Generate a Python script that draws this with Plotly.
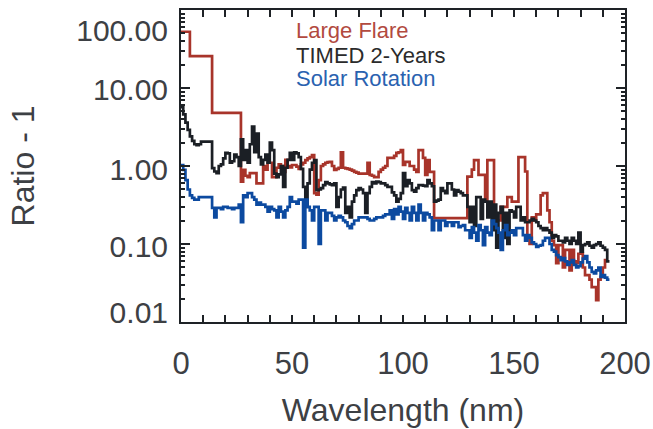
import plotly.graph_objects as go

# ---- data (1-nm bins, value = ratio - 1) ----
large_flare = ([52.6] * 4 + [25.7] * 10 + [4.8] * 13 + [
    0.63, 0.89, 0.75, 0.72, 0.81, 0.81, 0.81, 0.6, 0.6, 0.6,
    1.0, 0.9, 1.1, 1.1, 0.72, 0.72, 0.95, 1.05, 1.0, 0.84,
    1.2, 1.0, 0.96, 1.03, 1.03, 0.98, 0.92, 1.05, 1.1, 1.19,
    1.25, 1.3, 1.38, 0.45, 0.43, 0.66, 1.0, 1.05, 1.1, 1.12,
    1.13, 1.0, 0.89, 0.92, 0.95, 1.5, 0.95, 0.93, 0.92, 0.9,
    0.87, 0.84, 0.82, 0.8, 0.8, 0.8, 0.8, 1.1, 0.77, 0.75,
    0.72, 0.72, 0.84, 0.9, 0.95, 1.0, 1.27, 1.27, 1.27, 1.35,
    1.47, 1.5, 1.6, 1.03, 1.13, 1.13, 1.0, 1.0, 0.9, 0.84,
    1.6, 1.6, 1.27, 0.77, 1.19, 0.84, 0.84] + [0.215] * 15 + [
    0.73, 0.73, 0.9, 1.19, 1.19, 0.77, 0.77, 0.77, 0.35, 1.19,
    1.19, 1.19, 0.2, 0.2, 0.2, 0.3, 0.3, 0.3, 0.4, 0.4,
    0.35, 0.35, 0.35, 1.3, 1.3, 1.3, 0.85, 0.12, 0.1, 0.22,
    0.2, 0.24, 0.24, 0.42, 0.45, 0.45, 0.27, 0.19, 0.11, 0.097,
    0.057, 0.097, 0.097, 0.05, 0.084, 0.084, 0.046, 0.084, 0.06, 0.057,
    0.075, 0.075, 0.05, 0.04, 0.04, 0.035, 0.028, 0.028, 0.019, 0.035,
    0.038, 0.05, 0.062])

timed_2yr = [
    5.7, 4.6, 3.6, 2.9, 2.4, 2.1, 1.9, 1.85, 1.9, 2.05,
    2.05, 2.05, 2.05, 2.05, 0.94, 0.85, 0.81, 1.0, 1.05, 1.25,
    1.47, 1.45, 1.1, 1.15, 1.4, 1.3, 1.0, 2.2, 1.2, 1.6,
    1.1, 1.9, 3.2, 1.5, 2.6, 1.3, 1.05, 1.2, 1.4, 1.1,
    2.0, 1.6, 0.8, 0.72, 0.78, 1.0, 0.54, 0.95, 1.2, 1.47,
    1.2, 1.5, 1.45, 1.3, 0.92, 0.54, 0.3, 0.6, 0.9, 1.1,
    1.19, 0.49, 0.5, 0.52, 0.57, 0.62, 0.6, 0.58, 0.57, 0.6,
    0.3, 0.4, 0.5, 0.53, 0.25, 0.3, 0.22, 0.35, 0.42, 0.49,
    0.52, 0.5, 0.45, 0.25, 0.45, 0.54, 0.62, 0.6, 0.63, 0.62,
    0.6, 0.6, 0.57, 0.54, 0.54, 0.46, 0.42, 0.35, 0.38, 0.45,
    0.81, 0.55, 0.66, 0.6, 0.49, 0.47, 0.52, 0.57, 0.57, 0.56,
    0.55, 0.66, 0.6, 0.55, 0.35, 0.36, 0.37, 0.52, 0.48, 0.45,
    0.6, 0.6, 0.5, 0.42, 0.49, 0.47, 0.45, 0.42, 0.42, 0.3,
    0.19, 0.3, 0.17, 0.4, 0.4, 0.21, 0.37, 0.35, 0.22, 0.35,
    0.15, 0.32, 0.09, 0.25, 0.3, 0.12, 0.25, 0.1, 0.27, 0.26,
    0.22, 0.3, 0.3, 0.2, 0.22, 0.19, 0.19, 0.2, 0.21, 0.2,
    0.19, 0.17, 0.16, 0.15, 0.16, 0.15, 0.14, 0.12, 0.13, 0.125,
    0.11, 0.11, 0.105, 0.12, 0.11, 0.1, 0.12, 0.11, 0.1, 0.14,
    0.08, 0.097, 0.1, 0.105, 0.095, 0.09, 0.097, 0.1, 0.105, 0.095,
    0.09, 0.084, 0.06]

solar_rotation = [
    1.03, 0.89, 0.66, 0.5, 0.42, 0.39, 0.37, 0.37, 0.4, 0.4,
    0.4, 0.4, 0.4, 0.4, 0.29, 0.22, 0.29, 0.29, 0.28, 0.3,
    0.3, 0.29, 0.29, 0.28, 0.29, 0.29, 0.32, 0.19, 0.42, 0.4,
    0.45, 0.45, 0.4, 0.37, 0.32, 0.34, 0.32, 0.32, 0.3, 0.26,
    0.3, 0.28, 0.27, 0.22, 0.3, 0.26, 0.22, 0.27, 0.3, 0.4,
    0.35, 0.35, 0.33, 0.37, 0.37, 0.09, 0.37, 0.3, 0.27, 0.2,
    0.3, 0.3, 0.1, 0.27, 0.27, 0.2, 0.25, 0.25, 0.23, 0.2,
    0.22, 0.23, 0.22, 0.2, 0.19, 0.17, 0.16, 0.18, 0.2, 0.2,
    0.22, 0.22, 0.22, 0.22, 0.21, 0.2, 0.2, 0.21, 0.22, 0.22,
    0.22, 0.23, 0.24, 0.24, 0.27, 0.21, 0.28, 0.24, 0.3, 0.26,
    0.21, 0.29, 0.25, 0.2, 0.3, 0.25, 0.2, 0.32, 0.25, 0.2,
    0.25, 0.24, 0.22, 0.15, 0.2, 0.2, 0.15, 0.2, 0.2, 0.17,
    0.19, 0.19, 0.17, 0.19, 0.19, 0.165, 0.17, 0.175, 0.15, 0.15,
    0.12, 0.165, 0.14, 0.11, 0.175, 0.15, 0.097, 0.165, 0.14, 0.13,
    0.2, 0.18, 0.16, 0.14, 0.084, 0.15, 0.175, 0.13, 0.14, 0.15,
    0.13, 0.16, 0.16, 0.16, 0.13, 0.11, 0.13, 0.12, 0.105, 0.1,
    0.092, 0.095, 0.097, 0.11, 0.12, 0.12, 0.1, 0.084, 0.08, 0.072,
    0.068, 0.062, 0.066, 0.06, 0.054, 0.058, 0.062, 0.054, 0.05, 0.052,
    0.058, 0.065, 0.07, 0.058, 0.05, 0.044, 0.042, 0.046, 0.05, 0.038,
    0.04, 0.037, 0.035]

series_names = ["Large Flare", "TIMED 2-Years", "Solar Rotation"]
y_tick_vals = [0.01, 0.1, 1, 10, 100]
y_tick_text = ["0.01", "0.10", "1.00", "10.00", "100.00"]
x_tick_vals = [0, 50, 100, 150, 200]

line_colors = ["#a8342a", "#1b1f25", "#0c4aa0"]
text_colors = ["#b24a3f", "#2b2b2b", "#2a62b0"]
AX = "#1e2226"
TXT = "#3d4044"
FONT = "Liberation Sans, Arial, Helvetica, sans-serif"


def steps(vals):
    xs = list(range(len(vals) + 1))
    ys = list(vals) + [vals[-1]]
    return xs, ys


fig = go.Figure()
for name, vals, col in zip(series_names, [large_flare, timed_2yr, solar_rotation], line_colors):
    xs, ys = steps(vals)
    fig.add_trace(go.Scatter(x=xs, y=ys, mode="lines", name=name,
                             line=dict(color=col, width=2.7, shape="hv"),
                             showlegend=False))

# invisible trace to activate overlay label axis
fig.add_trace(go.Scatter(x=[None], y=[None], yaxis="y2", showlegend=False, hoverinfo="skip"))

# legend texts
leg_y = [0.935, 0.855, 0.779]
for name, col, yy in zip(series_names, text_colors, leg_y):
    fig.add_annotation(text=name, xref="paper", yref="paper", x=0.255, y=yy,
                       xanchor="left", yanchor="middle", showarrow=False,
                       font=dict(family=FONT, size=22, color=col))

# label positions shifted inward like the original (IDL-style placement)
label_pos = [0.0134, 0.092, 0.89, 9.5, 55]

fig.update_layout(
    width=653, height=429,
    margin=dict(l=181, r=28, t=10, b=107, autoexpand=False),
    paper_bgcolor="white", plot_bgcolor="white",
    font=dict(family=FONT, color=TXT),
    xaxis=dict(range=[0, 200], tickvals=x_tick_vals, automargin=False,
               ticks="inside", ticklen=7, tickwidth=1.5, tickcolor=AX,
               showline=True, linecolor=AX, linewidth=2, mirror="allticks",
               showgrid=False, zeroline=False,
               minor=dict(dtick=10, ticks="inside", ticklen=3, tickwidth=1.5, tickcolor=AX, showgrid=False),
               tickfont=dict(size=31, color=TXT), ticklabelstandoff=13,
               title=dict(text="Wavelength (nm)", font=dict(size=32, color=TXT), standoff=18)),
    yaxis=dict(type="log", range=[-2, 2], tickvals=y_tick_vals, showticklabels=False, automargin=False,
               ticks="inside", ticklen=9, tickwidth=1.5, tickcolor=AX,
               showline=True, linecolor=AX, linewidth=2, mirror="allticks",
               showgrid=False, zeroline=False,
               minor=dict(dtick="D1", ticks="inside", ticklen=4, tickwidth=1.5, tickcolor=AX, showgrid=False)),
    yaxis2=dict(type="log", range=[-2, 2], overlaying="y", side="left", automargin=False,
                tickvals=label_pos, ticktext=y_tick_text, ticks="",
                showline=False, showgrid=False, zeroline=False,
                tickfont=dict(size=30, color=TXT), ticklabelstandoff=12,
                title=dict(text="Ratio - 1", font=dict(size=32, color=TXT), standoff=32)),
)

fig.write_html("out.html")
